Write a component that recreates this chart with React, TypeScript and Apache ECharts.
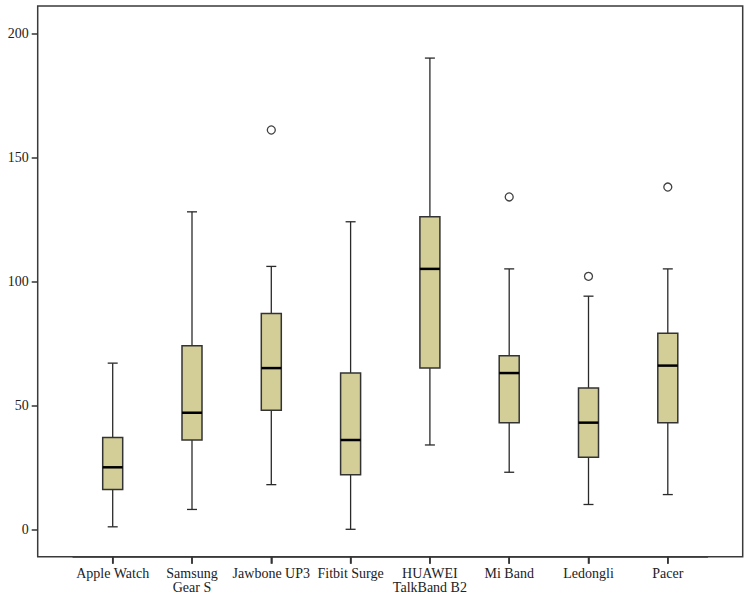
import React, { useEffect, useRef } from "react";
import * as echarts from "echarts";

const categories = [
  "Apple Watch",
  "Samsung\nGear S",
  "Jawbone UP3",
  "Fitbit Surge",
  "HUAWEI\nTalkBand B2",
  "Mi Band",
  "Ledongli",
  "Pacer",
];
const whiskerLow = [1, 8, 18, 0, 34, 23, 10, 14];
const q1 = [16, 36, 48, 22, 65, 43, 29, 43];
const median = [25, 47, 65, 36, 105, 63, 43, 66];
const q3 = [37, 74, 87, 63, 126, 70, 57, 79];
const whiskerHigh = [67, 128, 106, 124, 190, 105, 94, 105];
const outliers: [number, number][] = [
  [2, 161],
  [5, 134],
  [6, 102],
  [7, 138],
];
const yTicks = [0, 50, 100, 150, 200];
const Y_MIN = -11.05;
const Y_MAX = 211;

const FONT = "'Liberation Serif', 'DejaVu Serif', serif";

export default function App() {
  const ref = useRef<HTMLDivElement>(null);

  useEffect(() => {
    if (!ref.current) return;
    const chart = echarts.init(ref.current, null, { renderer: "svg" });

    const boxData = categories.map((_, i) => [
      i,
      whiskerLow[i],
      q1[i],
      median[i],
      q3[i],
      whiskerHigh[i],
    ]);

    const frameLeft = 37.7;
    const frameTop = 6;
    const frameRight = 742.7;
    const frameBottom = 556.7;
    const gridLeft = 73.05;
    const gridWidth = 634.4;

    const frame = {
      id: "frame",
      type: "rect",
      silent: true,
      z: 0,
      shape: {
        x: frameLeft,
        y: frameTop,
        width: frameRight - frameLeft,
        height: frameBottom - frameTop,
      },
      style: { fill: "none", stroke: "#3a3a3a", lineWidth: 1.5 },
    };

    chart.setOption({
      animation: false,
      backgroundColor: "#ffffff",
      grid: {
        left: gridLeft,
        width: gridWidth,
        top: frameTop,
        height: frameBottom - frameTop,
        containLabel: false,
      },
      xAxis: {
        type: "category",
        data: categories,
        boundaryGap: true,
        position: "bottom",
        axisLine: {
          show: true,
          onZero: false,
          lineStyle: { color: "#3a3a3a", width: 1.5 },
        },
        axisTick: {
          show: true,
          interval: 0,
          alignWithLabel: true,
          length: 7,
          lineStyle: { color: "#333", width: 1.5 },
        },
        axisLabel: {
          interval: 0,
          margin: 10,
          color: "#222",
          fontFamily: FONT,
          fontSize: 14,
          lineHeight: 14,
        },
        splitLine: { show: false },
      },
      yAxis: {
        type: "value",
        min: Y_MIN,
        max: Y_MAX,
        offset: gridLeft - frameLeft,
        axisLine: { show: false },
        axisTick: {
          show: true,
          length: 6,
          customValues: yTicks,
          lineStyle: { color: "#333", width: 1.5 },
        },
        axisLabel: {
          customValues: yTicks,
          margin: 9,
          color: "#222",
          fontFamily: FONT,
          fontSize: 14,
        },
        splitLine: { show: false },
      },
      graphic: [frame],
      series: [
        {
          type: "custom",
          data: boxData,
          clip: false,
          encode: { x: 0, y: [1, 2, 3, 4, 5] },
          renderItem: (params: any, api: any) => {
            const idx = api.value(0);
            const pMin = api.coord([idx, api.value(1)]);
            const pQ1 = api.coord([idx, api.value(2)]);
            const pMed = api.coord([idx, api.value(3)]);
            const pQ3 = api.coord([idx, api.value(4)]);
            const pMax = api.coord([idx, api.value(5)]);
            const cx = pMin[0];
            const hw = 10;
            const cw = 5;
            const wStyle = { stroke: "#2a2a2a", lineWidth: 1.3 };
            return {
              type: "group",
              children: [
                {
                  type: "line",
                  shape: { x1: cx, y1: pQ3[1], x2: cx, y2: pMax[1] },
                  style: wStyle,
                },
                {
                  type: "line",
                  shape: { x1: cx, y1: pQ1[1], x2: cx, y2: pMin[1] },
                  style: wStyle,
                },
                {
                  type: "line",
                  shape: { x1: cx - cw, y1: pMax[1], x2: cx + cw, y2: pMax[1] },
                  style: wStyle,
                },
                {
                  type: "line",
                  shape: { x1: cx - cw, y1: pMin[1], x2: cx + cw, y2: pMin[1] },
                  style: wStyle,
                },
                {
                  type: "rect",
                  shape: {
                    x: cx - hw,
                    y: pQ3[1],
                    width: 2 * hw,
                    height: pQ1[1] - pQ3[1],
                  },
                  style: { fill: "#D3CE97", stroke: "#333", lineWidth: 1.5 },
                },
                {
                  type: "line",
                  shape: { x1: cx - hw, y1: pMed[1], x2: cx + hw, y2: pMed[1] },
                  style: { stroke: "#000", lineWidth: 2.5 },
                },
              ],
            };
          },
        },
        {
          type: "scatter",
          data: outliers,
          symbol: "circle",
          symbolSize: 8,
          itemStyle: {
            color: "#ffffff",
            borderColor: "#111",
            borderWidth: 1.3,
          },
        },
      ],
    });

    try {
      const yBase = chart.convertToPixel({ yAxisIndex: 0 }, Y_MIN) as number;
      const tickEls = categories.map((_, i) => {
        const x = chart.convertToPixel({ xAxisIndex: 0 }, i) as number;
        return {
          id: "xtick" + i,
          type: "line",
          silent: true,
          z: 10,
          shape: { x1: x, y1: yBase, x2: x, y2: yBase + 7 },
          style: { stroke: "#333", lineWidth: 1.5 },
        };
      });
      chart.setOption({ graphic: [frame, ...tickEls] });
    } catch (e) {
      // keep chart as is
    }

    return () => chart.dispose();
  }, []);

  return (
    <div
      ref={ref}
      style={{ position: "fixed", left: 0, top: 0, width: 751, height: 601 }}
    />
  );
}
